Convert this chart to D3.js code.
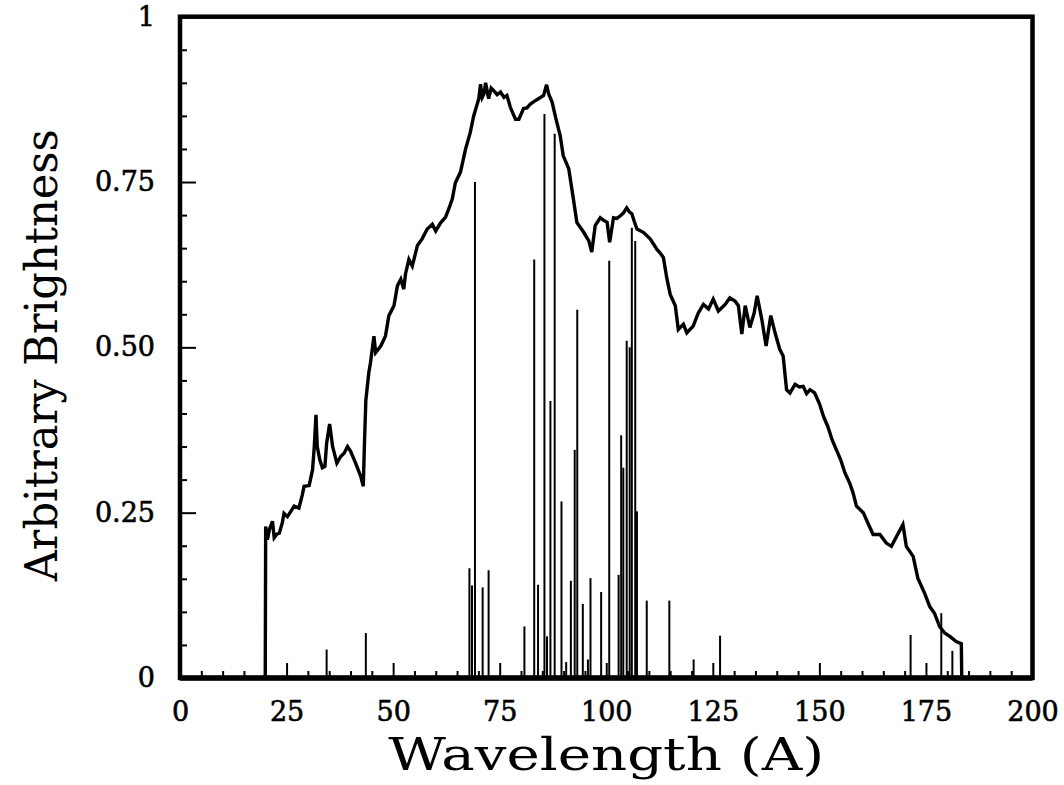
<!DOCTYPE html>
<html>
<head>
<meta charset="utf-8">
<script src="https://cdn.jsdelivr.net/npm/d3@7"></script>
<style>
  html, body { margin: 0; padding: 0; background: #fff; }
  svg { display: block; }
  text { font-family: "DejaVu Serif", serif; fill: #000; }
</style>
</head>
<body>
<svg id="chart" width="1064" height="785"></svg>
<script>
// ---- data ----
const xTicks = [0, 25, 50, 75, 100, 125, 150, 175, 200];
const yTicks = [0, 0.25, 0.5, 0.75, 1];
const yTickLabels = ["0", "0.25", "0.50", "0.75", "1"];

// continuum spectrum (wavelength, brightness)
const contX = [20.0,20.1,20.5,21.0,21.7,22.1,22.8,23.3,24.0,24.4,25.2,26.0,26.8,27.9,28.7,29.1,30.3,31.1,31.5,31.9,32.2,32.8,33.4,34.0,34.4,35.1,35.8,36.8,37.7,38.5,39.3,40.0,41.2,42.4,43.0,43.3,43.6,44.3,44.7,45.5,45.9,47.1,48.2,49.0,50.2,51.0,51.8,52.5,52.9,53.7,54.5,55.7,56.8,58.0,59.2,60.0,61.1,62.3,63.1,63.9,64.6,65.8,67.0,68.1,68.9,70.1,70.5,70.9,71.3,71.7,72.4,73.0,73.6,74.4,75.2,76.0,76.7,77.5,78.7,79.5,80.6,81.4,82.2,83.1,84.1,85.3,86.0,86.5,87.3,88.1,89.2,89.9,91.2,92.3,93.1,94.7,95.9,96.6,97.4,98.6,99.4,100.2,100.8,101.7,102.5,103.3,104.0,104.8,105.4,106.0,106.6,107.2,108.7,110.3,111.9,112.6,113.4,114.2,115.0,116.2,116.9,118.1,118.9,120.4,121.6,122.8,124.0,125.1,126.3,127.9,129.0,130.2,131.0,131.8,132.6,133.7,134.7,135.4,136.5,137.5,138.6,139.6,140.7,141.5,142.3,143.1,144.3,145.3,146.2,147.0,147.8,148.9,150.0,151.0,152.0,153.0,154.0,155.0,156.0,157.1,157.9,158.7,160.3,161.4,162.6,164.2,165.7,166.9,168.1,169.6,170.4,172.0,173.1,174.7,175.9,177.0,178.2,179.4,180.6,182.1,183.3,183.4];
const contY = [0,0.229,0.209,0.225,0.237,0.212,0.218,0.219,0.235,0.249,0.244,0.252,0.26,0.257,0.277,0.29,0.291,0.315,0.35,0.398,0.35,0.33,0.318,0.32,0.355,0.384,0.35,0.325,0.335,0.34,0.35,0.343,0.325,0.305,0.29,0.36,0.42,0.462,0.477,0.517,0.492,0.502,0.517,0.548,0.563,0.593,0.603,0.588,0.611,0.633,0.623,0.654,0.664,0.679,0.686,0.676,0.688,0.697,0.71,0.725,0.749,0.765,0.8,0.825,0.85,0.876,0.898,0.878,0.883,0.9,0.876,0.892,0.888,0.882,0.886,0.878,0.881,0.863,0.845,0.845,0.861,0.862,0.868,0.872,0.876,0.881,0.897,0.883,0.871,0.848,0.82,0.79,0.77,0.724,0.689,0.674,0.661,0.644,0.684,0.696,0.692,0.689,0.659,0.696,0.695,0.699,0.703,0.711,0.705,0.702,0.69,0.679,0.674,0.664,0.648,0.643,0.636,0.605,0.58,0.563,0.527,0.535,0.522,0.532,0.552,0.565,0.558,0.573,0.555,0.565,0.575,0.57,0.563,0.52,0.563,0.53,0.552,0.578,0.542,0.502,0.548,0.522,0.497,0.487,0.436,0.431,0.444,0.44,0.441,0.43,0.436,0.431,0.415,0.395,0.38,0.36,0.345,0.33,0.31,0.295,0.28,0.26,0.25,0.234,0.217,0.217,0.204,0.199,0.214,0.232,0.199,0.184,0.151,0.128,0.108,0.098,0.078,0.068,0.063,0.055,0.052,0];

// emission lines (wavelength, height)
const lineX = [34.4,43.6,67.9,68.5,69.2,71.0,72.4,80.8,83.1,84.0,85.5,86.1,86.9,87.9,89.5,90.6,91.7,92.6,93.2,94.5,95.7,96.3,98.8,100.7,102.9,103.5,104.0,104.8,105.5,106.0,106.8,107.2,109.5,114.8,120.5,126.7,171.4,178.6,181.2];
const lineH = [0.043,0.068,0.166,0.14,0.75,0.137,0.163,0.078,0.633,0.141,0.853,0.063,0.419,0.823,0.267,0.024,0.147,0.345,0.557,0.112,0.028,0.151,0.13,0.631,0.156,0.367,0.318,0.51,0.50,0.681,0.661,0.252,0.117,0.117,0.028,0.064,0.065,0.098,0.041];

// ---- drawing ----
const svg = d3.select("#chart");
const x = d3.scaleLinear().domain([0, 200]).range([180, 1032.5]);
const y = d3.scaleLinear().domain([0, 1]).range([678, 16.7]);

// emission lines
svg.append("g").selectAll("line")
  .data(lineX.map((v, i) => ({x: v, h: lineH[i]})))
  .join("line")
  .attr("x1", d => x(d.x)).attr("x2", d => x(d.x))
  .attr("y1", y(0)).attr("y2", d => y(d.h))
  .attr("stroke", "#000").attr("stroke-width", 2);

// continuum
const cont = contX.map((v, i) => [v, contY[i]]);
svg.append("path")
  .datum(cont)
  .attr("d", d3.line().x(d => x(d[0])).y(d => y(d[1])))
  .attr("fill", "none").attr("stroke", "#000")
  .attr("stroke-width", 3.4).attr("stroke-linejoin", "miter");

// minor ticks
const xMinor = d3.range(0, 201, 5).filter(v => v % 25 !== 0);
const yMinor = d3.range(0, 21).map(i => i * 0.05).filter((v, i) => i % 5 !== 0);

svg.append("g").attr("transform", `translate(0,${y(0)})`)
  .call(d3.axisBottom(x).tickValues(xMinor).tickSize(-7).tickFormat(""))
  .call(g => g.select(".domain").remove())
  .call(g => g.selectAll("line").attr("stroke-width", 2));
svg.append("g").attr("transform", `translate(${x(0)},0)`)
  .call(d3.axisLeft(y).tickValues(yMinor).tickSize(-7).tickFormat(""))
  .call(g => g.select(".domain").remove())
  .call(g => g.selectAll("line").attr("stroke-width", 2));

// major ticks with labels
const styleLabels = g => g.selectAll("text")
  .attr("font-family", "DejaVu Serif").attr("font-size", 27)
  .attr("fill", "#000").attr("stroke", "#000").attr("stroke-width", 0.6);
svg.append("g").attr("transform", `translate(0,${y(0)})`)
  .call(d3.axisBottom(x).tickValues(xTicks).tickSize(-15).tickPadding(24).tickFormat(d3.format("d")))
  .call(g => g.select(".domain").remove())
  .call(g => g.selectAll("line").attr("stroke-width", 2))
  .call(styleLabels);
svg.append("g").attr("transform", `translate(${x(0)},0)`)
  .call(d3.axisLeft(y).tickValues(yTicks).tickSize(-16).tickPadding(25).tickFormat((d, i) => yTickLabels[i]))
  .call(g => g.select(".domain").remove())
  .call(g => g.selectAll("line").attr("stroke-width", 2))
  .call(styleLabels);

// frame
svg.append("rect")
  .attr("x", x(0)).attr("y", y(1))
  .attr("width", x(200) - x(0)).attr("height", y(0) - y(1))
  .attr("fill", "none").attr("stroke", "#000").attr("stroke-width", 4.5);
svg.append("line")
  .attr("x1", x(0)).attr("x2", x(200)).attr("y1", y(0)).attr("y2", y(0))
  .attr("stroke", "#000").attr("stroke-width", 5.5);

// axis titles
svg.append("text")
  .attr("x", (x(0) + x(200)) / 2).attr("y", 770)
  .attr("text-anchor", "middle").attr("font-size", 44)
  .attr("textLength", 436).attr("lengthAdjust", "spacingAndGlyphs")
  .text("Wavelength (A)");
svg.append("text")
  .attr("transform", `translate(57,${(y(0) + y(1)) / 2 + 8}) rotate(-90)`)
  .attr("text-anchor", "middle").attr("font-size", 44)
  .attr("textLength", 452).attr("lengthAdjust", "spacingAndGlyphs")
  .text("Arbitrary Brightness");
</script>
</body>
</html>
